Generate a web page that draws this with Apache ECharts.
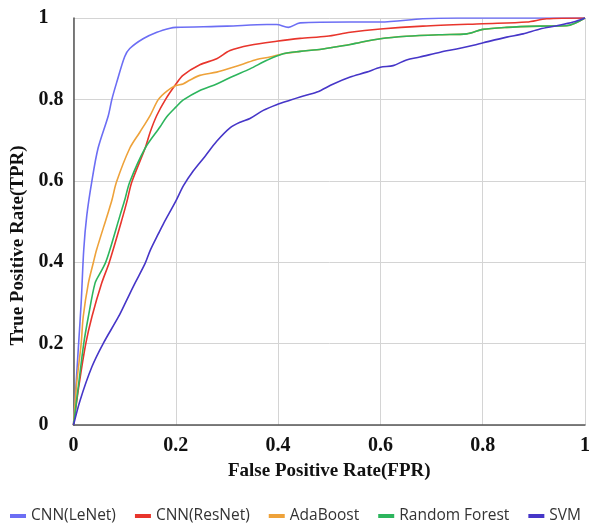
<!DOCTYPE html>
<html>
<head>
<meta charset="utf-8">
<script src="https://cdn.jsdelivr.net/npm/echarts@6/dist/echarts.min.js"></script>
<style>
  html, body { margin: 0; padding: 0; background: #fff; }
  #roc { width: 596px; height: 523px; }
</style>
</head>
<body>
<div id="roc"></div>
<script>
// ROC points as [FPR, TPR]
var lenet = [[0,0],[0.005,0.1],[0.01,0.2],[0.015,0.3],[0.02,0.43],[0.026,0.515],[0.036,0.6],[0.048,0.68],[0.068,0.76],[0.075,0.8],[0.084,0.84],[0.1,0.905],[0.11,0.925],[0.136,0.949],[0.163,0.965],[0.189,0.975],[0.2,0.977],[0.3,0.98],[0.378,0.984],[0.397,0.984],[0.42,0.977],[0.443,0.988],[0.541,0.99],[0.6,0.99],[0.683,0.998],[0.75,1],[1,1]];
var resnet = [[0,0],[0.011,0.1],[0.024,0.2],[0.036,0.266],[0.055,0.348],[0.07,0.4],[0.097,0.515],[0.105,0.552],[0.114,0.597],[0.14,0.68],[0.15,0.72],[0.163,0.761],[0.18,0.8],[0.2,0.837],[0.214,0.859],[0.247,0.885],[0.28,0.9],[0.306,0.92],[0.345,0.933],[0.397,0.943],[0.443,0.95],[0.495,0.955],[0.541,0.965],[0.6,0.973],[0.683,0.98],[0.8,0.986],[0.886,0.99],[0.925,0.998],[1,1]];
var adaboost = [[0,0],[0.006,0.1],[0.015,0.2],[0.019,0.266],[0.029,0.348],[0.039,0.4],[0.045,0.43],[0.066,0.515],[0.075,0.552],[0.084,0.597],[0.11,0.68],[0.13,0.72],[0.15,0.761],[0.166,0.8],[0.182,0.82],[0.2,0.834],[0.214,0.838],[0.227,0.847],[0.247,0.859],[0.28,0.867],[0.312,0.879],[0.332,0.887],[0.358,0.898],[0.384,0.904],[0.41,0.912],[0.443,0.918],[0.476,0.922],[0.508,0.928],[0.541,0.935],[0.6,0.949],[0.651,0.955],[0.717,0.959],[0.769,0.961],[0.8,0.972],[0.847,0.977],[0.912,0.98],[0.964,0.981],[1,1]];
var randomForest = [[0,0],[0.01,0.1],[0.02,0.2],[0.029,0.266],[0.042,0.348],[0.052,0.373],[0.062,0.397],[0.071,0.43],[0.091,0.515],[0.1,0.552],[0.11,0.597],[0.14,0.68],[0.169,0.732],[0.182,0.757],[0.2,0.781],[0.214,0.798],[0.247,0.822],[0.28,0.838],[0.312,0.857],[0.345,0.875],[0.378,0.896],[0.41,0.912],[0.443,0.918],[0.476,0.922],[0.508,0.928],[0.541,0.935],[0.56,0.94],[0.6,0.949],[0.651,0.955],[0.717,0.959],[0.769,0.961],[0.8,0.972],[0.847,0.977],[0.912,0.98],[0.964,0.981],[1,1]];
var svm = [[0,0],[0.013,0.061],[0.036,0.143],[0.058,0.2],[0.088,0.266],[0.104,0.307],[0.12,0.348],[0.14,0.397],[0.15,0.429],[0.166,0.47],[0.176,0.495],[0.2,0.55],[0.215,0.588],[0.234,0.624],[0.257,0.66],[0.28,0.697],[0.306,0.73],[0.326,0.744],[0.345,0.753],[0.371,0.773],[0.397,0.787],[0.423,0.798],[0.443,0.806],[0.476,0.818],[0.508,0.838],[0.541,0.855],[0.573,0.867],[0.6,0.879],[0.625,0.883],[0.651,0.897],[0.677,0.904],[0.717,0.916],[0.749,0.924],[0.782,0.933],[0.801,0.939],[0.847,0.953],[0.879,0.961],[0.912,0.973],[0.945,0.981],[0.977,0.99],[1,1]];

var names = ['CNN(LeNet)', 'CNN(ResNet)', 'AdaBoost', 'Random Forest', 'SVM'];
var colors = ['#6c6ef4', '#e8352c', '#eea23a', '#2db55d', '#4636c8'];
var curves = [lenet, resnet, adaboost, randomForest, svm];

var serif = '"Liberation Serif", "Times New Roman", serif';

var myChart = echarts.init(document.getElementById('roc'));
var series = [];
for (var i = 0; i < curves.length; i++) {
    series.push({
        name: names[i],
        type: 'line',
        data: curves[i],
        symbol: 'none',
        smooth: 0.3,
        lineStyle: { width: 1.6, color: colors[i] },
        itemStyle: { color: colors[i] }
    });
}

var option = {
    animation: false,
    backgroundColor: '#fff',
    color: colors,
    grid: { left: 73.5, right: 11, top: 18, bottom: 98 },
    legend: {
        top: 503,
        left: 5,
        icon: 'rect',
        itemWidth: 16,
        itemHeight: 4,
        itemGap: 19,
        textStyle: { fontFamily: '"Open Sans", "Noto Sans", sans-serif', fontSize: 15.5, color: '#333' },
        data: names
    },
    xAxis: {
        type: 'value',
        min: 0, max: 1, interval: 0.2,
        name: 'False Positive Rate(FPR)',
        nameLocation: 'middle',
        nameGap: 37,
        nameTextStyle: { fontFamily: serif, fontWeight: 'bold', fontSize: 19, color: '#111' },
        axisLine: { lineStyle: { color: '#555', width: 1.5 } },
        axisTick: { show: false },
        axisLabel: { margin: 11, fontFamily: serif, fontWeight: 'bold', fontSize: 20, color: '#111' },
        splitLine: { show: true, lineStyle: { color: '#d4d4d4', width: 1 } }
    },
    yAxis: {
        type: 'value',
        min: 0, max: 1, interval: 0.2,
        name: 'True Positive Rate(TPR)',
        nameLocation: 'middle',
        nameGap: 46,
        nameTextStyle: { fontFamily: serif, fontWeight: 'bold', fontSize: 19, color: '#111', padding: [0, 48, 0, 0] },
        axisLine: { show: true, lineStyle: { color: '#555', width: 1.5 } },
        axisTick: { show: false },
        axisLabel: { align: 'left', margin: 35, fontFamily: serif, fontWeight: 'bold', fontSize: 20, color: '#111' },
        splitLine: { show: true, lineStyle: { color: '#d4d4d4', width: 1 } }
    },
    series: series
};
myChart.setOption(option);
</script>
</body>
</html>
